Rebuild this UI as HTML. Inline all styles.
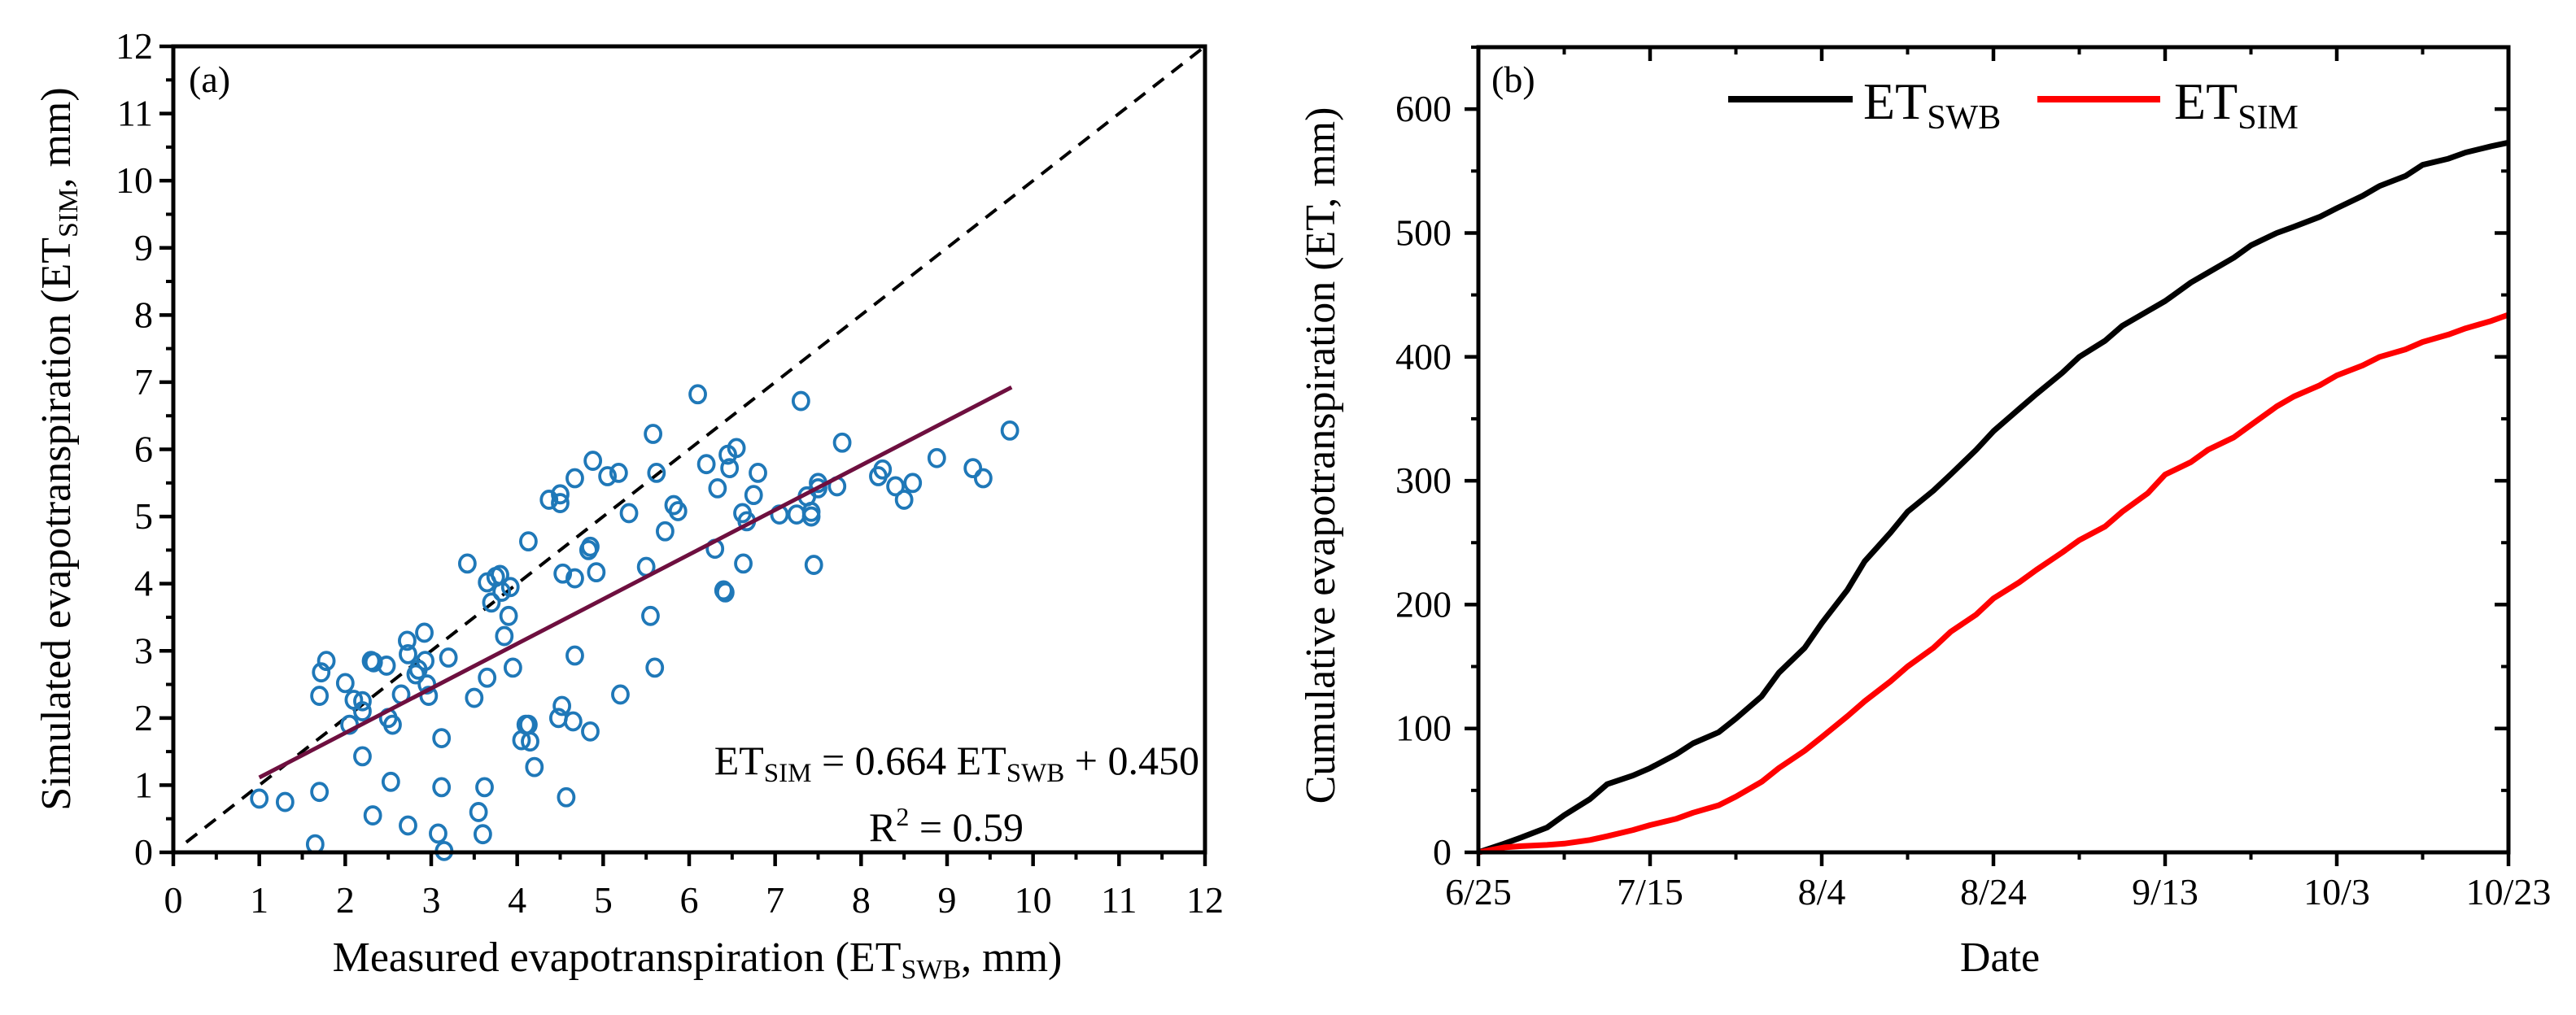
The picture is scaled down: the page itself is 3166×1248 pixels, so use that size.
<!DOCTYPE html>
<html><head><meta charset="utf-8"><style>
html,body{margin:0;padding:0;background:#fff;}
svg, svg text, text, tspan{font-family:"Liberation Serif","Times New Roman",serif !important;}
</style></head><body>
<svg id="c" width="3166" height="1248" viewBox="0 0 3166 1248" xmlns="http://www.w3.org/2000/svg" style="position:absolute;left:0;top:0">
<g id="pa"></g>
<g id="pb"></g>
<text x="232" y="113" font-size="46">(a)</text>
<text x="1833" y="113" font-size="46">(b)</text>
<text x="857" y="1194" font-size="52" text-anchor="middle">Measured evapotranspiration (ET<tspan font-size="34" dy="9">SWB</tspan><tspan dy="-9">, mm)</tspan></text>
<text transform="translate(86,552) rotate(-90)" font-size="52" text-anchor="middle">Simulated evapotranspiration (ET<tspan font-size="34" dy="9">SIM</tspan><tspan dy="-9">, mm)</tspan></text>
<text x="1474" y="952" font-size="50" text-anchor="end">ET<tspan font-size="33" dy="9">SIM</tspan><tspan dy="-9"> = 0.664 ET</tspan><tspan font-size="33" dy="9">SWB</tspan><tspan dy="-9"> + 0.450</tspan></text>
<text x="1163" y="1034" font-size="50" text-anchor="middle">R<tspan font-size="32" dy="-19">2</tspan><tspan dy="19"> = 0.59</tspan></text>
<text x="2458" y="1194" font-size="52" text-anchor="middle">Date</text>
<text transform="translate(1640,560) rotate(-90)" font-size="52" text-anchor="middle">Cumulative evapotranspiration (ET, mm)</text>
<g>
<line x1="2124" y1="122" x2="2277" y2="122" stroke="#000" stroke-width="8"/>
<text x="2290" y="146" font-size="64">ET<tspan font-size="42" dy="12">SWB</tspan></text>
<line x1="2504" y1="122" x2="2655" y2="122" stroke="#f00" stroke-width="8"/>
<text x="2672" y="146" font-size="64">ET<tspan font-size="42" dy="12">SIM</tspan></text>
</g>
</svg>
<script>
// Panel (a) data
const scatterX = [1.0,1.3,1.65,1.7,1.7,1.72,1.78,2.0,2.05,2.1,2.2,2.2,2.2,2.3,2.33,2.32,2.48,2.5,2.55,2.53,2.65,2.72,2.73,2.73,2.82,2.85,2.92,2.93,2.95,2.97,3.08,3.12,3.12,3.15,3.2,3.5,3.42,3.55,3.6,3.62,3.65,3.65,3.7,3.75,3.8,3.82,3.85,3.9,3.92,3.95,4.05,4.1,4.15,4.13,4.13,4.2,4.37,4.5,4.5,4.48,4.52,4.53,4.57,4.65,4.67,4.67,4.67,4.83,4.85,4.85,4.88,4.92,5.05,5.18,5.2,5.3,5.5,5.55,5.58,5.6,5.62,5.72,5.82,5.87,6.1,6.2,6.3,6.33,6.4,6.42,6.45,6.47,6.55,6.62,6.63,6.67,6.75,6.8,7.05,7.25,7.3,7.37,7.42,7.42,7.45,7.5,7.5,7.72,7.78,8.2,8.25,8.4,8.5,8.6,8.88,9.3,9.42,9.73];
const scatterY = [0.8,0.75,0.12,0.9,2.33,2.68,2.85,2.52,1.9,2.27,2.1,2.25,1.43,2.85,2.83,0.55,2.78,2.0,1.9,1.05,2.35,3.15,2.95,0.4,2.65,2.72,3.27,2.85,2.5,2.33,0.28,1.7,0.97,0.02,2.9,2.3,4.3,0.6,0.27,0.97,2.6,4.02,3.72,4.1,4.13,3.88,3.22,3.52,3.95,2.75,1.67,1.9,1.65,1.9,4.63,1.27,5.25,5.33,5.2,2.0,2.18,4.15,0.82,1.95,2.93,5.57,4.08,4.5,4.55,1.8,5.83,4.17,5.6,5.65,2.35,5.05,4.25,3.52,6.23,2.75,5.65,4.78,5.17,5.08,6.82,5.78,4.52,5.42,3.9,3.87,5.92,5.72,6.02,5.05,4.3,4.93,5.32,5.65,5.03,5.03,6.72,5.3,5.07,5.0,4.28,5.5,5.42,5.45,6.1,5.6,5.7,5.45,5.25,5.5,5.87,5.72,5.57,6.28];
const fitSlope = 0.664, fitIntercept = 0.450;
const fitRange = [1.0, 9.75];
const aTicks = [0,1,2,3,4,5,6,7,8,9,10,11,12];
// Panel (b) data
const days = [0,3,5,8,10,13,15,18,20,23,25,28,30,33,35,38,40,43,45,48,50,53,55,58,60,63,65,68,70,73,75,78,80,83,85,88,90,93,95,98,100,103,105,108,110,113,115,118,120];
const etSWB = [0,7,12,20,30,43,55,62,68,79,88,97,108,126,145,165,185,212,235,258,275,292,305,325,340,358,370,387,400,413,425,437,445,460,468,480,490,500,505,513,520,530,538,546,555,560,565,570,573];
const etSIM = [0,4,5,6,7,10,13,18,22,27,32,38,45,57,68,82,93,110,122,138,150,165,178,192,205,218,228,242,252,263,275,290,305,315,325,335,345,360,368,377,385,393,400,406,412,418,423,429,434];
const bYTicks = [0,100,200,300,400,500,600];
const dateTicks = ['6/25','7/15','8/4','8/24','9/13','10/3','10/23'];

const NS='http://www.w3.org/2000/svg';
function mk(parent,tag,attrs,text){const e=document.createElementNS(NS,tag);for(const k in attrs)e.setAttribute(k,attrs[k]);if(text!==undefined)e.textContent=text;parent.appendChild(e);return e;}
const FS="font-family:'Liberation Serif',serif";

// ---- Panel A ----
const A=document.getElementById('pa');
const aL=213,aR=1481,aT=57,aB=1048;
const ax=v=>aL+(aR-aL)*v/12, ay=v=>aB-(aB-aT)*v/12;
let d=mk(A,'line',{x1:ax(0.15),y1:ay(0.15),x2:ax(12),y2:ay(12),stroke:'#000','stroke-width':4,'stroke-dasharray':'17,12'});


scatterX.forEach((x,i)=>{const c=mk(A,'ellipse',{cx:ax(x),cy:ay(scatterY[i]),rx:9.5,ry:10.5,fill:'none',stroke:'#1f78b8','stroke-width':3.8});

});
let fl=mk(A,'line',{x1:ax(fitRange[0]),y1:ay(fitSlope*fitRange[0]+fitIntercept),x2:ax(fitRange[1]),y2:ay(fitSlope*fitRange[1]+fitIntercept),stroke:'#6e0f3f','stroke-width':5});


let fr=mk(A,'rect',{x:aL,y:aT,width:aR-aL,height:aB-aT,fill:'none',stroke:'#000','stroke-width':5});


aTicks.forEach((t,i)=>{
 mk(A,'line',{x1:ax(t),y1:aB,x2:ax(t),y2:aB+17,stroke:'#000','stroke-width':4.5});
 mk(A,'line',{x1:aL,y1:ay(t),x2:aL-17,y2:ay(t),stroke:'#000','stroke-width':4.5});
 if(i<aTicks.length-1){const m=t+0.5;
  mk(A,'line',{x1:ax(m),y1:aB,x2:ax(m),y2:aB+9,stroke:'#000','stroke-width':4});
  mk(A,'line',{x1:aL,y1:ay(m),x2:aL-9,y2:ay(m),stroke:'#000','stroke-width':4});}
 let tx=mk(A,'text',{x:ax(t),y:1122,'font-size':46,style:FS,'text-anchor':'middle'},t);
 
 
 let ty=mk(A,'text',{x:188,y:ay(t)+15,'font-size':46,style:FS,'text-anchor':'end'},t);
 
 
});
// ---- Panel B ----
const B=document.getElementById('pb');
const bL=1817,bR=3083,bT=58,bB=1048;
const bx=v=>bL+(bR-bL)*v/120, by=v=>bB-(bB-bT)*v/650;
function path(arr){return days.map((dd,i)=>(i?'L':'M')+bx(dd).toFixed(1)+','+by(arr[i]).toFixed(1)).join('');}
let p1=mk(B,'path',{d:path(etSWB),fill:'none',stroke:'#000','stroke-width':7,'stroke-linejoin':'round'});


let p2=mk(B,'path',{d:path(etSIM),fill:'none',stroke:'#f00','stroke-width':7,'stroke-linejoin':'round'});


let fb=mk(B,'rect',{x:bL,y:bT,width:bR-bL,height:bB-bT,fill:'none',stroke:'#000','stroke-width':5});


bYTicks.forEach(t=>{
 mk(B,'line',{x1:bL,y1:by(t),x2:bL-17,y2:by(t),stroke:'#000','stroke-width':4.5});
 mk(B,'line',{x1:bR,y1:by(t),x2:bR-17,y2:by(t),stroke:'#000','stroke-width':4.5});
 const m=t+50;
 mk(B,'line',{x1:bL,y1:by(m),x2:bL-9,y2:by(m),stroke:'#000','stroke-width':4});
 mk(B,'line',{x1:bR,y1:by(m),x2:bR-9,y2:by(m),stroke:'#000','stroke-width':4});
 let ty=mk(B,'text',{x:1784,y:by(t)+15,'font-size':46,style:FS,'text-anchor':'end'},t);
 
 
});
dateTicks.forEach((lab,i)=>{
 const dd=i*20;
 mk(B,'line',{x1:bx(dd),y1:bB,x2:bx(dd),y2:bB+17,stroke:'#000','stroke-width':4.5});
 mk(B,'line',{x1:bx(dd),y1:bT,x2:bx(dd),y2:bT+17,stroke:'#000','stroke-width':4.5});
 if(i<dateTicks.length-1){
  mk(B,'line',{x1:bx(dd+10),y1:bB,x2:bx(dd+10),y2:bB+9,stroke:'#000','stroke-width':4});
  mk(B,'line',{x1:bx(dd+10),y1:bT,x2:bx(dd+10),y2:bT+9,stroke:'#000','stroke-width':4});}
 let tx=mk(B,'text',{x:bx(dd),y:1112,'font-size':46,style:FS,'text-anchor':'middle'},lab);
 
 
});
</script>
</body></html>
